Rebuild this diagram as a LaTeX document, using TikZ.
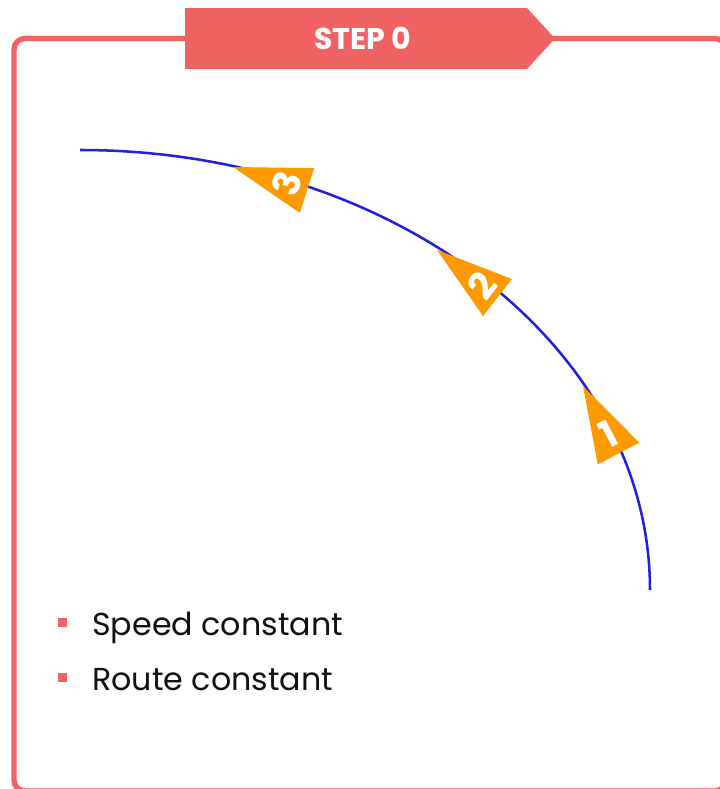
\documentclass[tikz,border=0pt]{standalone}
\usepackage{fontspec}
\setmainfont{Poppins}
\usetikzlibrary{calc}
\definecolor{framered}{HTML}{F16262}
\definecolor{markorange}{HTML}{FF9900}
\definecolor{pathblue}{RGB}{32,32,224}
\definecolor{inktext}{HTML}{111111}

\tikzset{
  frameline/.style={draw=framered, line width=4.1pt, rounded corners=8.25pt},
  banner/.style={fill=framered},
  titletext/.style={text=white, font=\fontsize{22.5}{25}\selectfont\bfseries, inner sep=0pt},
  route/.style={draw=pathblue, line width=1.9pt},
  marker/.style={fill=markorange},
  digit/.style={text=white, font=\fontsize{28}{30}\selectfont\bfseries, inner sep=0pt},
  bulletsq/.style={fill=framered, minimum size=6.75pt, inner sep=0pt, draw=none},
  itemtext/.style={text=inktext, font=\fontsize{23.8}{30}\selectfont, inner sep=0pt, anchor=base west}
}

\begin{document}
\begin{tikzpicture}[x=0.75pt, y=-0.75pt]
  \useasboundingbox (0,0) rectangle (720,789);
  \clip (0,0) rectangle (720,789);
  \fill[white] (0,0) rectangle (720,789);

  % outer frame (runs past the right and bottom edges)
  \draw[frameline] (14,791) rectangle (726,38.5);

  % title banner with pointed right end
  \fill[banner] (185,8) -- (527,8) -- (555,38.5) -- (527,69) -- (185,69) -- cycle;
  \node[titletext] (title) at (363,38.5) {STEP 0};

  % quarter-ellipse route
  \draw[route] (650,590) arc[start angle=0, end angle=-90, x radius=570, y radius=440];

  % direction markers along the route: tip and base midpoint of each
  \coordinate (t1) at (583,386);   \coordinate (m1) at (618.5,453.5);
  \coordinate (t2) at (437,250);   \coordinate (m2) at (497.5,297.5);
  \coordinate (t3) at (233,167);   \coordinate (m3) at (307,190.5);

  \fill[marker] (t1) -- ($(m1)!17.6pt!90:(t1)$) -- ($(m1)!17.6pt!-90:(t1)$) -- cycle;
  \fill[marker] (t2) -- ($(m2)!17.6pt!90:(t2)$) -- ($(m2)!17.6pt!-90:(t2)$) -- cycle;
  \fill[marker] (t3) -- ($(m3)!17.6pt!90:(t3)$) -- ($(m3)!17.6pt!-90:(t3)$) -- cycle;

  \node[digit, rotate=27.7] (n1) at ($(t1)!0.72!(m1)$) {1};
  \node[digit, rotate=51.9] (n2) at ($(t2)!0.74!(m2)$) {2};
  \node[digit, rotate=72.4] (n3) at ($(t3)!0.72!(m3)$) {3};

  % bullet list
  \node[bulletsq] (b1) at (62.5,622.5) {};
  \node[bulletsq] (b2) at (62.5,677.5) {};
  \node[itemtext] (i1) at (92,635) {Speed constant};
  \node[itemtext] (i2) at (92,690) {Route constant};
\end{tikzpicture}
\end{document}
